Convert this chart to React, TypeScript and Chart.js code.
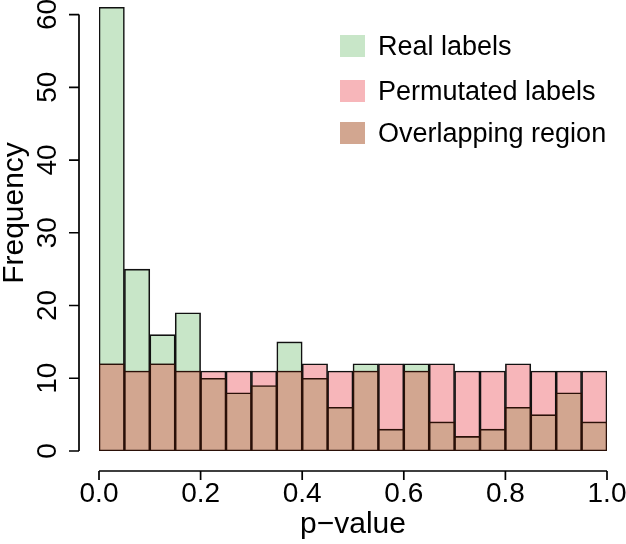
import React, { useEffect, useRef } from "react";
import { Chart, registerables } from "chart.js";

Chart.register(...registerables);

// Histogram bins (p-value), width 0.05
const binCenters = [
  0.025, 0.075, 0.125, 0.175, 0.225, 0.275, 0.325, 0.375, 0.425, 0.475,
  0.525, 0.575, 0.625, 0.675, 0.725, 0.775, 0.825, 0.875, 0.925, 0.975,
];
const realLabels = [61, 25, 16, 19, 10, 8, 9, 15, 10, 6, 12, 3, 12, 4, 2, 3, 6, 5, 8, 4];
const permutatedLabels = [12, 11, 12, 11, 11, 11, 11, 11, 12, 11, 11, 12, 11, 12, 11, 11, 12, 11, 11, 11];
const yTicks = [0, 10, 20, 30, 40, 50, 60];
const xTicks = [0, 0.2, 0.4, 0.6, 0.8, 1.0];
const xTickLabels = ["0.0", "0.2", "0.4", "0.6", "0.8", "1.0"];
const legendLabels = ["Real labels", "Permutated labels", "Overlapping region"];
const xTitle = "p\u2212value";
const yTitle = "Frequency";

const GREEN = "#C8E6C8";
const PINK = "#F7B6BA";
const BROWN = "#D2A690";
const FONT = '"Liberation Sans", Arial, Helvetica, sans-serif';

const rStylePlugin = {
  id: "rStyle",
  afterDraw(chart: any) {
    const ctx = chart.ctx as CanvasRenderingContext2D;
    const xs = chart.scales.x;
    const ys = chart.scales.y;
    ctx.save();
    ctx.strokeStyle = "#000";
    ctx.fillStyle = "#000";
    ctx.lineWidth = 1.7;

    // y axis
    const ax = 79;
    ctx.beginPath();
    ctx.moveTo(ax, ys.getPixelForValue(yTicks[0]));
    ctx.lineTo(ax, ys.getPixelForValue(yTicks[yTicks.length - 1]));
    yTicks.forEach((v) => {
      const py = ys.getPixelForValue(v);
      ctx.moveTo(ax, py);
      ctx.lineTo(ax - 10, py);
    });
    ctx.stroke();

    ctx.font = `28px ${FONT}`;
    yTicks.forEach((v) => {
      ctx.save();
      ctx.translate(48, ys.getPixelForValue(v));
      ctx.rotate(-Math.PI / 2);
      ctx.textAlign = "center";
      ctx.textBaseline = "middle";
      ctx.fillText(String(v), 0, 0);
      ctx.restore();
    });

    // x axis
    const ay = 471;
    ctx.beginPath();
    ctx.moveTo(xs.getPixelForValue(xTicks[0]), ay);
    ctx.lineTo(xs.getPixelForValue(xTicks[xTicks.length - 1]), ay);
    xTicks.forEach((v) => {
      const px = xs.getPixelForValue(v);
      ctx.moveTo(px, ay);
      ctx.lineTo(px, ay + 9);
    });
    ctx.stroke();
    ctx.textAlign = "center";
    ctx.textBaseline = "middle";
    xTicks.forEach((v, i) => {
      ctx.fillText(xTickLabels[i], xs.getPixelForValue(v), 494);
    });

    // titles
    ctx.font = `30px ${FONT}`;
    ctx.textBaseline = "alphabetic";
    ctx.fillText(xTitle, (xs.left + xs.right) / 2, 533);
    ctx.save();
    ctx.translate(23, 213);
    ctx.rotate(-Math.PI / 2);
    ctx.textAlign = "center";
    ctx.textBaseline = "alphabetic";
    ctx.fillText(yTitle, 0, 0);
    ctx.restore();

    // legend
    const colors = [GREEN, PINK, BROWN];
    const rows = [46, 91, 133];
    ctx.font = `27px ${FONT}`;
    ctx.textAlign = "left";
    ctx.textBaseline = "middle";
    legendLabels.forEach((lab, i) => {
      ctx.fillStyle = colors[i];
      ctx.fillRect(340, rows[i] - 11, 25, 22);
      ctx.fillStyle = "#000";
      ctx.fillText(lab, 378, rows[i] + 2);
    });
    ctx.restore();
  },
};

export default function App() {
  const ref = useRef<HTMLCanvasElement | null>(null);
  useEffect(() => {
    if (!ref.current) return;
    const overlap = realLabels.map((v, i) => Math.min(v, permutatedLabels[i]));
    const mk = (arr: number[]) => arr.map((v, i) => ({ x: binCenters[i], y: v }));
    const chart = new Chart(ref.current, {
      type: "bar",
      data: {
        datasets: [
          {
            label: legendLabels[0],
            data: mk(realLabels),
            backgroundColor: GREEN,
            borderColor: "#111",
            borderWidth: 1.6,
            borderSkipped: false,
            order: 3,
          },
          {
            label: legendLabels[1],
            data: mk(permutatedLabels),
            backgroundColor: PINK,
            borderColor: "#111",
            borderWidth: 1.6,
            borderSkipped: false,
            order: 2,
          },
          {
            label: legendLabels[2],
            data: mk(overlap),
            backgroundColor: BROWN,
            borderColor: "#2a1008",
            borderWidth: 1.6,
            borderSkipped: false,
            order: 1,
          },
        ] as any,
      },
      options: {
        animation: false,
        responsive: false,
        layout: { padding: { left: 99, right: 19, top: 0, bottom: 93 } },
        datasets: { bar: { barPercentage: 1, categoryPercentage: 1, grouped: false } } as any,
        plugins: { legend: { display: false }, tooltip: { enabled: false } },
        scales: {
          x: { type: "linear", min: 0, max: 1, offset: false, display: false, ticks: { stepSize: 0.2 } },
          y: { type: "linear", min: 0, max: 62, display: false },
        },
      } as any,
      plugins: [rStylePlugin],
    });
    return () => chart.destroy();
  }, []);
  return (
    <div style={{ position: "fixed", left: 0, top: 0, background: "#fff" }}>
      <canvas ref={ref} width={626} height={544} style={{ width: 626, height: 544, display: "block" }} />
    </div>
  );
}
